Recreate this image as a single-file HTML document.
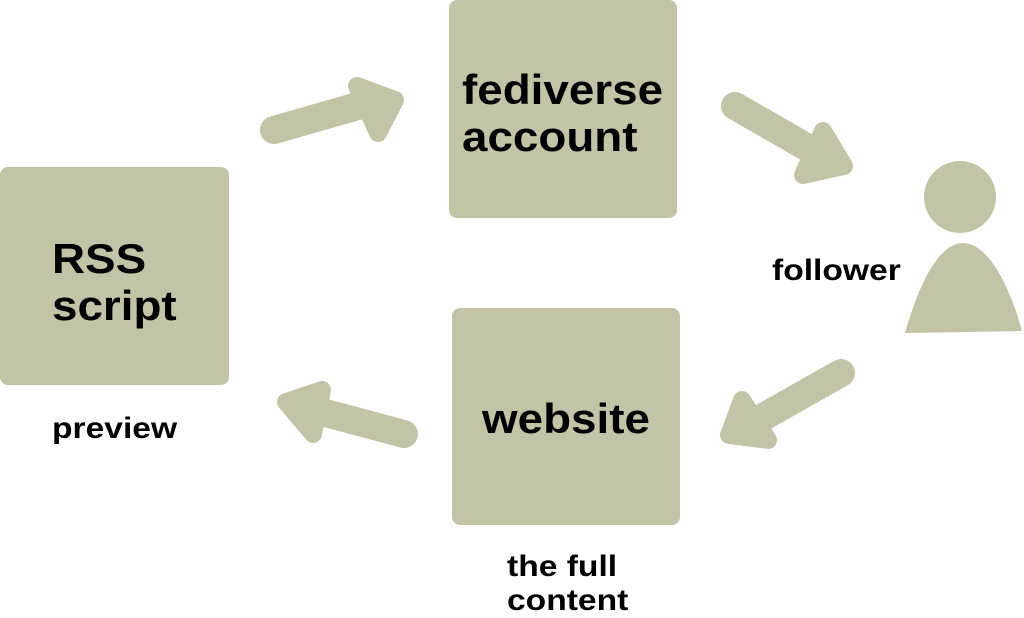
<!DOCTYPE html>
<html><head><meta charset="utf-8"><style>
html,body{margin:0;padding:0;background:#fff;}
body{width:1024px;height:615px;position:relative;overflow:hidden;font-family:"Liberation Sans",sans-serif;}
.box{position:absolute;background:#c3c3a8;border-radius:8px;}
.t{position:absolute;color:#000;white-space:nowrap;transform-origin:0 0;}
.b{font-weight:bold;font-size:42px;line-height:47px;transform:scaleX(1.09);}
.n{font-weight:bold;font-size:30px;line-height:34px;transform:scaleX(1.12);}
</style></head><body>
<div class="box" style="left:0;top:167px;width:229px;height:218px"></div>
<div class="box" style="left:449px;top:0;width:228px;height:218px"></div>
<div class="box" style="left:452px;top:308px;width:228px;height:217px"></div>
<svg width="1024" height="615" style="position:absolute;left:0;top:0">
<g fill="#c3c3a8" stroke="#c3c3a8" stroke-linejoin="round" stroke-linecap="round">
<line x1="274" y1="130" x2="365" y2="104" stroke-width="28"/>
<polygon points="357,86 395,100 378,133" stroke-width="18"/>
<line x1="735" y1="106" x2="815" y2="152" stroke-width="28"/>
<polygon points="823,131 844,166 803,175" stroke-width="18"/>
<line x1="841" y1="373" x2="758" y2="420" stroke-width="28"/>
<polygon points="742,400 729,435 768,440" stroke-width="18"/>
<line x1="404" y1="434" x2="318" y2="411" stroke-width="28"/>
<polygon points="322,390 286,402 313,434" stroke-width="18"/>
</g>
<circle cx="960" cy="197" r="36" fill="#c3c3a8"/>
<path d="M905,333 C920,280 940,243 963,243 C986,243 1008,280 1022,331 Z" fill="#c3c3a8"/>
</svg>
<div class="t b" style="left:52px;top:235px">RSS<br>script</div>
<div class="t b" style="left:462px;top:66px">fediverse<br>account</div>
<div class="t b" style="left:482px;top:395px">website</div>
<div class="t n" style="left:772px;top:254px">follower</div>
<div class="t n" style="left:52px;top:412px">preview</div>
<div class="t n" style="left:507px;top:550px;line-height:34px">the full<br>content</div>
</body></html>
